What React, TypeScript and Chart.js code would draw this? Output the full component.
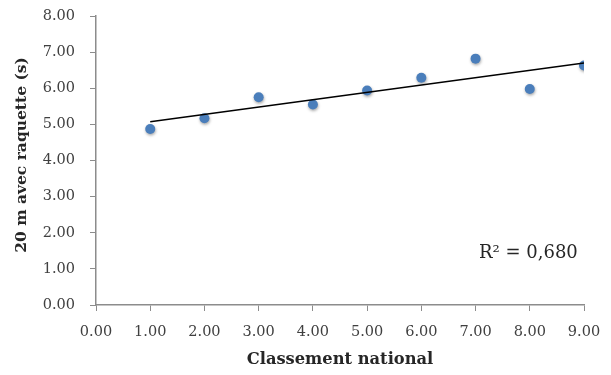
import React, { useEffect, useRef } from "react";
import { Chart, registerables } from "chart.js";

Chart.register(...registerables);

const rankX = [1, 2, 3, 4, 5, 6, 7, 8, 9];
const timeY = [4.87, 5.17, 5.75, 5.55, 5.94, 6.29, 6.82, 5.98, 6.63];
const trendX = [1, 9];
const trendY = [5.07, 6.70];
const r2Label = "R² = 0,680";
const xTitle = "Classement national";
const yTitle = "20 m avec raquette (s)";

const serif = "'DejaVu Serif', serif";

const textPlugin = {
  id: "extraText",
  beforeDatasetDraw(chart: any, args: any) {
    if (args.index === 1) {
      const ctx = chart.ctx;
      ctx.save();
      ctx.shadowColor = "rgba(0,0,0,0.35)";
      ctx.shadowBlur = 3;
      ctx.shadowOffsetX = 0.5;
      ctx.shadowOffsetY = 1.5;
    }
  },
  afterDatasetDraw(chart: any, args: any) {
    if (args.index === 1) chart.ctx.restore();
  },
  afterDraw(chart: any) {
    const ctx = chart.ctx;
    ctx.save();
    ctx.font = `18px ${serif}`;
    ctx.fillStyle = "#262626";
    ctx.textAlign = "left";
    ctx.textBaseline = "alphabetic";
    ctx.fillText(r2Label, 479, 258);
    ctx.translate(22, 155);
    ctx.rotate(-Math.PI / 2);
    ctx.font = `bold 15.5px ${serif}`;
    ctx.textAlign = "center";
    ctx.textBaseline = "middle";
    ctx.fillText(yTitle, 0, 0);
    ctx.restore();
  },
};

export default function App() {
  const ref = useRef<HTMLCanvasElement | null>(null);
  useEffect(() => {
    if (!ref.current) return;
    const chart = new Chart(ref.current, {
      type: "scatter",
      data: {
        datasets: [
          {
            type: "line",
            data: trendX.map((x, i) => ({ x, y: trendY[i] })),
            borderColor: "#000000",
            borderWidth: 1.5,
            pointRadius: 0,
            fill: false,
            order: 0,
          } as any,
          {
            data: rankX.map((x, i) => ({ x, y: timeY[i] })),
            backgroundColor: "#4a7ebb",
            borderColor: "#4a7ebb",
            borderWidth: 0,
            pointRadius: 5,
            order: 1,
          },
        ],
      },
      options: {
        responsive: true,
        maintainAspectRatio: false,
        animation: false,
        layout: { padding: { top: 16, right: 27, left: 0, bottom: 0 } },
        plugins: { legend: { display: false }, tooltip: { enabled: false } },
        scales: {
          x: {
            type: "linear",
            min: 0,
            max: 9,
            afterFit: (s: any) => {
              s.height = 70;
              s.paddingLeft = 0;
              s.paddingRight = 0;
            },
            ticks: {
              stepSize: 1,
              callback: (v: any) => Number(v).toFixed(2),
              font: { family: serif, size: 14.5 },
              color: "#404040",
              padding: 13,
            },
            grid: {
              drawOnChartArea: false,
              drawTicks: true,
              tickLength: 6,
              color: "#8c8c8c",
            },
            border: { color: "#8c8c8c", width: 1.5 },
            title: {
              display: true,
              text: xTitle,
              font: { family: serif, size: 16.3, weight: "bold" },
              color: "#262626",
              padding: { top: 0, bottom: 5 },
            },
          },
          y: {
            type: "linear",
            min: 0,
            max: 8,
            afterFit: (s: any) => {
              s.width = 96;
              s.paddingTop = 0;
              s.paddingBottom = 0;
            },
            ticks: {
              stepSize: 1,
              callback: (v: any) => Number(v).toFixed(2),
              font: { family: serif, size: 14.5 },
              color: "#404040",
              padding: 15,
            },
            grid: {
              drawOnChartArea: false,
              drawTicks: true,
              tickLength: 6,
              color: "#8c8c8c",
            },
            border: { color: "#8c8c8c", width: 1.5 },
            title: { display: false },
          },
        },
      },
      plugins: [textPlugin],
    });
    return () => chart.destroy();
  }, []);
  return (
    <div
      style={{
        position: "fixed",
        left: 0,
        top: 0,
        width: 611,
        height: 375,
        background: "#ffffff",
      }}
    >
      <canvas ref={ref} />
    </div>
  );
}
